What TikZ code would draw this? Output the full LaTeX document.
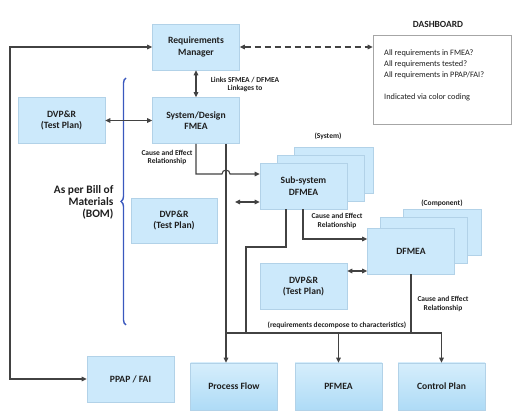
\documentclass[tikz,border=0pt]{standalone}
\usepackage{fontspec}
\setmainfont{Carlito}
\usetikzlibrary{arrows.meta}
\usetikzlibrary{decorations.pathreplacing}
\definecolor{boxfill}{RGB}{204,233,251}
\definecolor{boxline}{RGB}{178,210,232}
\definecolor{shadetop}{RGB}{214,238,252}
\definecolor{shadebot}{RGB}{174,219,246}
\definecolor{linkgray}{RGB}{66,66,66}
\definecolor{bracecol}{RGB}{58,88,190}
\tikzset{
  blockbox/.style={draw=boxline, fill=boxfill, line width=0.6pt, minimum width=87pt, minimum height=46pt, inner sep=2pt, align=center, text=black!88, font=\fontsize{9.6}{11.4}\selectfont\bfseries},
  shadebox/.style={blockbox, top color=shadetop, bottom color=shadebot},
  plainlink/.style={draw=linkgray, line width=1.1pt},
  link/.style={plainlink, -{Triangle[length=5pt,width=4.5pt]}},
  dlink/.style={plainlink, {Triangle[length=5pt,width=4.5pt]}-{Triangle[length=5pt,width=4.5pt]}},
  smalltxt/.style={align=center, text=black!88, font=\fontsize{7.5}{8.8}\selectfont\bfseries},
}
\begin{document}
\begin{tikzpicture}[x=1pt,y=1pt,yscale=-1,xscale=1]
\useasboundingbox (0,0) rectangle (520,419);

%Shape: Requirements manager and system FMEA
\node[blockbox] (reqmgr) at (196,47) {Requirements\\Manager};
\node[blockbox] (sysfmea) at (196,120.5) {System/Design\\FMEA};
\node[blockbox] (dvpA) at (61.5,120.5) {DVP\&R\\(Test Plan)};

%Shape: Dashboard
\node[draw=black!35, fill=white, line width=0.6pt, minimum width=138pt, minimum height=89pt] (dash) at (442,79.5) {};
\node[font=\fontsize{9.4}{11}\selectfont\bfseries, text=black!88] (dashttl) at (438,24) {DASHBOARD};
\node[anchor=north west, inner sep=0pt, align=left, text=black!88, font=\fontsize{8.3}{10.8}\selectfont] (dashtxt) at (384,50) {All requirements in FMEA?\\All requirements tested?\\All requirements in PPAP/FAI?\\[10.8pt]Indicated via color coding};

%Shape: Sub-system stack
\node[blockbox, minimum width=79pt] (subsysBack) at (333.5,170) {};
\node[blockbox] (subsysMid) at (320.5,178) {};
\node[blockbox] (subsys) at (303.5,186) {Sub-system\\DFMEA};
\node[smalltxt] (syslbl) at (328,136) {(System)};

%Shape: Component stack
\node[blockbox, minimum width=78pt] (dfmeaBack) at (442,232) {};
\node[blockbox] (dfmeaMid) at (424,240) {};
\node[blockbox] (dfmea) at (411,251) {DFMEA};
\node[smalltxt] (complbl) at (442,203) {(Component)};

%Shape: Test plans
\node[blockbox, minimum width=86pt, minimum height=45pt] (dvpB) at (174,220.5) {DVP\&R\\(Test Plan)};
\node[blockbox] (dvpC) at (303.5,286.5) {DVP\&R\\(Test Plan)};

%Shape: Bottom row
\node[blockbox] (ppap) at (130.5,379) {PPAP / FAI};
\node[shadebox, minimum height=47pt] (procflow) at (234,386.5) {Process Flow};
\node[shadebox, minimum height=47pt] (pfmea) at (338.5,386.5) {PFMEA};
\node[shadebox, minimum height=47pt] (ctrlplan) at (441.5,386.5) {Control Plan};

%Shape: Brace
\coordinate (bomTop) at (126,78);
\coordinate (bomBot) at (126,325);
\draw[bracecol, line width=1.4pt, decorate, decoration={brace, amplitude=5pt}] (bomBot) -- (bomTop);
\node[anchor=east, align=right, text=black!88, font=\fontsize{11.4}{12}\selectfont\bfseries] (bomlbl) at (117,202) {As per Bill of\\Materials\\(BOM)};

%Straight Lines: loop and dashboard link
\coordinate (loopTop) at (10,47);
\coordinate (loopBot) at (10,379);
\draw[dlink] (reqmgr.west) -- (loopTop) -- (loopBot) -- (ppap.west);
\draw[dlink, dash pattern=on 6pt off 4pt] (reqmgr.east) -- (reqmgr.east -| dash.west);
\draw[dlink] (reqmgr.south) -- (sysfmea.north);
\draw[dlink] (dvpA.east) -- (sysfmea.west);
\node[smalltxt] (linklbl) at (245,84.5) {Links SFMEA / DFMEA\\Linkages to};

%Straight Lines: system to sub-system, with hop
\coordinate (hopL) at (222,174);
\draw[link] (sysfmea.south) -- (sysfmea.south |- hopL) -- (hopL) arc[start angle=180, end angle=360, radius=4] -- (hopL -| subsys.west);
\node[smalltxt] (celblA) at (167,157.5) {Cause and Effect\\Relationship};

%Straight Lines: trunk and bus
\coordinate (trunk) at (226,333);
\draw[link] (sysfmea.south -| trunk) -- (procflow.north -| trunk);
\draw[link] (trunk) -| (ctrlplan.north);
\draw[link] (trunk -| pfmea.north) -- (pfmea.north);
\node[smalltxt] (declbl) at (337,325.5) {(requirements decompose to characteristics)};

%Straight Lines: sub-system outputs
\coordinate (dbA) at (235,202);
\draw[dlink] (dbA) -- (dbA -| subsys.west);
\coordinate (sbA) at (286,247);
\coordinate (sbB) at (246,247);
\draw[plainlink] (subsys.south -| sbA) -- (sbA) -- (sbB) -- (sbB |- trunk);
\coordinate (sdA) at (303,239);
\draw[link] (subsys.south -| sdA) -- (sdA) -- (sdA -| dfmea.west);
\node[smalltxt] (celblB) at (337,221) {Cause and Effect\\Relationship};

%Straight Lines: component outputs
\coordinate (dcA) at (0,271);
\draw[dlink] (dvpC.east |- dcA) -- (dfmea.west |- dcA);
\draw[plainlink] (dfmea.south) -- (dfmea.south |- trunk);
\node[smalltxt] (celblC) at (443,304) {Cause and Effect\\Relationship};
\end{tikzpicture}
\end{document}
